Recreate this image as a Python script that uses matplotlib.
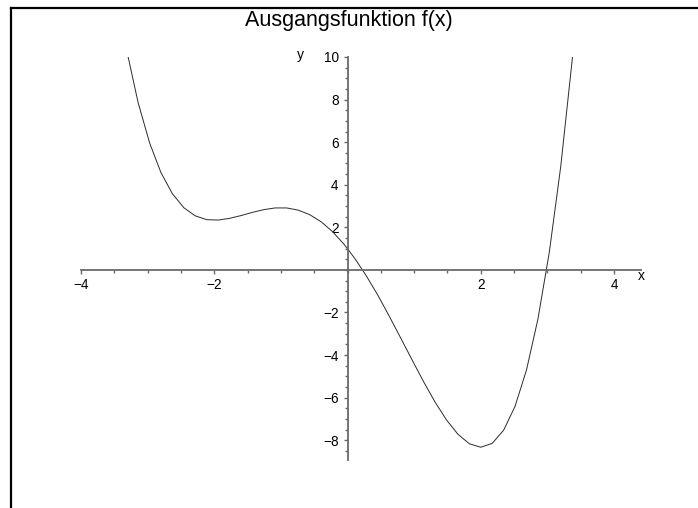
import matplotlib

matplotlib.use("Agg")
import matplotlib.pyplot as plt
from matplotlib.lines import Line2D
from matplotlib.ticker import MultipleLocator, FixedLocator

plt.rcParams["font.family"] = ["Liberation Sans", "DejaVu Sans"]

# Stützstellen der Kurve
x_vals = [-3.314, -3.143, -2.971, -2.800, -2.629, -2.457, -2.286, -2.114, -1.943,
          -1.771, -1.600, -1.429, -1.257, -1.086, -0.914, -0.743, -0.571, -0.400,
          -0.229, -0.057, 0.114, 0.286, 0.457, 0.629, 0.800, 0.971, 1.143, 1.314,
          1.486, 1.657, 1.829, 2.000, 2.171, 2.343, 2.514, 2.686, 2.857, 3.029,
          3.200, 3.371, 3.543]
y_vals = [10.31, 7.86, 5.97, 4.57, 3.58, 2.92, 2.54, 2.36, 2.34,
          2.42, 2.55, 2.70, 2.83, 2.91, 2.91, 2.81, 2.60, 2.27,
          1.81, 1.22, 0.52, -0.30, -1.20, -2.19, -3.21, -4.24, -5.26, -6.21,
          -7.05, -7.72, -8.17, -8.33, -8.15, -7.53, -6.41, -4.70, -2.32, 0.84,
          4.86, 9.84, 15.94]

x_ticks = [-4, -2, 2, 4]
y_ticks = [-8, -6, -4, -2, 2, 4, 6, 8, 10]
title = "Ausgangsfunktion f(x)"

W, H = 698, 508
fig = plt.figure(figsize=(W / 100, H / 100), dpi=100)
ax = fig.add_axes((81 / W, 1 - 460 / H, (640.7 - 81) / W, (460 - 57) / H))
ax.set_xlim(-4, 4.4)
ax.set_ylim(-8.93, 10)

ax.plot(x_vals, y_vals, color="#2b2b2b", lw=0.7)

axis_col = "#6a6a6a"
for side in ("top", "right"):
    ax.spines[side].set_visible(False)
ax.spines["left"].set_position(("data", 0))
ax.spines["bottom"].set_position(("data", 0))
for side in ("left", "bottom"):
    ax.spines[side].set_color(axis_col)
    ax.spines[side].set_linewidth(1.3)

ax.xaxis.set_major_locator(FixedLocator(x_ticks))
ax.yaxis.set_major_locator(FixedLocator(y_ticks))
ax.xaxis.set_minor_locator(MultipleLocator(0.5))
ax.yaxis.set_minor_locator(MultipleLocator(0.5))
ax.tick_params(which="both", direction="out", color=axis_col, width=1.0,
               labelsize=9.8, labelcolor="black")
ax.tick_params(which="major", length=3.2)
ax.tick_params(axis="x", which="major", pad=2.6)
ax.tick_params(axis="y", which="major", pad=3.2)
ax.tick_params(which="minor", length=2.0)
ax.set_facecolor("none")

# Achsenbeschriftungen
ax.text(4.41, -0.28, "x", fontsize=10, ha="center", va="center", clip_on=False)
ax.text(-0.71, 10.1, "y", fontsize=10, ha="center", va="center", clip_on=False)

fig.text(349 / W, 1 - 20.5 / H, title, fontsize=15.5, ha="center", va="center")

# Rahmen oben und links
fig.add_artist(Line2D([11 / W, 11 / W], [0, 1 - 8 / H], color="black", lw=1.6,
                      transform=fig.transFigure, solid_capstyle="projecting"))
fig.add_artist(Line2D([11 / W, 1], [1 - 8 / H, 1 - 8 / H], color="black", lw=1.6,
                      transform=fig.transFigure, solid_capstyle="projecting"))

fig.savefig("out.png", dpi=100)
